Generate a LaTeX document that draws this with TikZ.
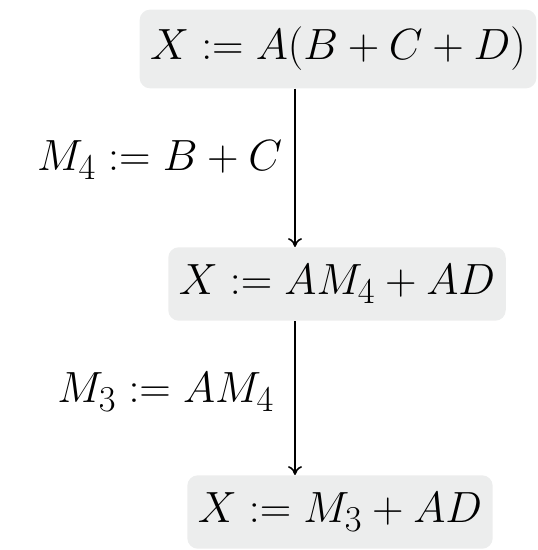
\documentclass[tikz,border=0pt]{standalone}
\usetikzlibrary{arrows.meta}
\definecolor{boxgray}{RGB}{236,237,237}
\tikzset{
    exprbox/.style={fill=boxgray, rounded corners=6pt, inner xsep=6pt, inner ysep=10pt},
    steplabel/.style={anchor=east, inner sep=2pt},
}
\begin{document}
\begin{tikzpicture}[x=0.02cm, y=-0.02cm, font=\fontsize{28}{32}\selectfont]
    \useasboundingbox (0,0) rectangle (537,550);

    % Expressions
    \node[exprbox] (e1) at (338,49) {$X := A(B + C + D)$};
    \node[exprbox] (e2) at (337,284) {$X := AM_4 + AD$};
    \node[exprbox] (e3) at (340,512) {$X := M_3 + AD$};

    % Arrow column
    \coordinate (col) at (295,0);

    % Rewriting steps
    \draw[-{To[length=5pt,width=8pt]}, line width=0.9pt] (e1.south -| col) -- (e2.north -| col);
    \draw[-{To[length=5pt,width=8pt]}, line width=0.9pt] (e2.south -| col) -- (e3.north -| col);

    % Step labels
    \node[steplabel] (s1) at (286,160) {$M_4 := B + C$};
    \node[steplabel] (s2) at (278,392) {$M_3 := AM_4$};
\end{tikzpicture}
\end{document}
